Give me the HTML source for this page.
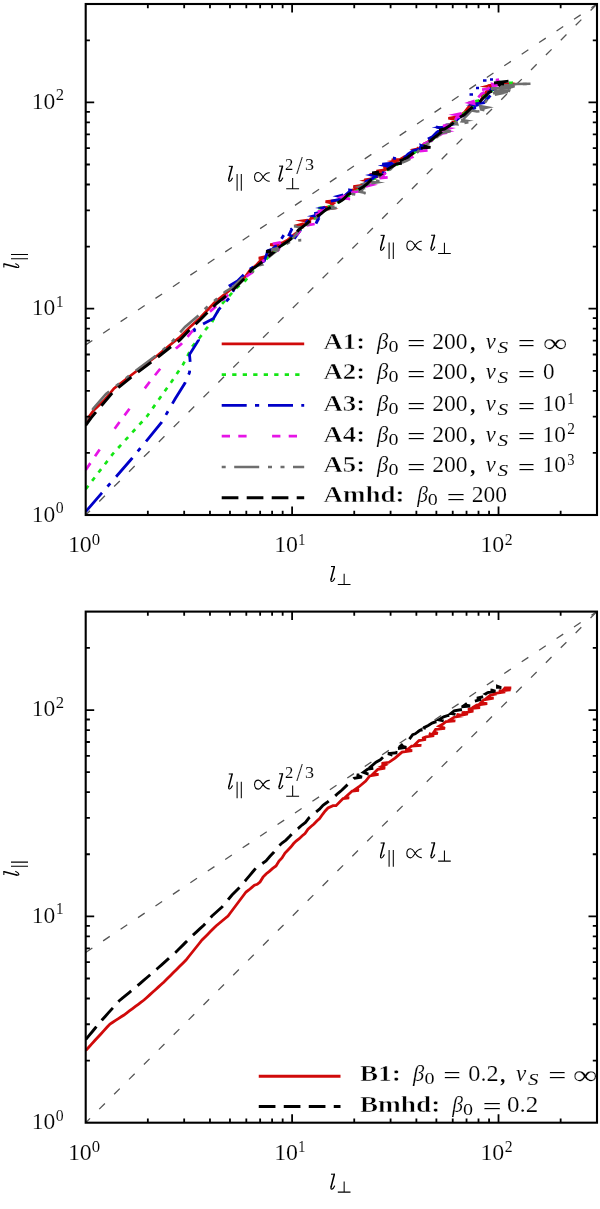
<!DOCTYPE html>
<html><head><meta charset="utf-8"><title>plot</title>
<style>html,body{margin:0;padding:0;background:#fff;width:600px;height:1209px;overflow:hidden}
text{font-family:"Liberation Serif",serif;fill:#000;stroke:#fff;stroke-width:0.16px;paint-order:normal}
text[font-weight=bold]{stroke-width:0.5px}
text.s{stroke-width:0.08px}
text.c{stroke:none}
svg{will-change:transform}</style></head>
<body>
<svg width="600" height="1209" viewBox="0 0 600 1209" font-family="Liberation Serif, serif" style="display:block;font-kerning:none">
<defs>
<clipPath id="c0"><rect x="85.70" y="4.00" width="511.30" height="511.00"/></clipPath>
<clipPath id="c1"><rect x="85.70" y="611.60" width="511.30" height="511.10"/></clipPath>
</defs>
<rect width="600" height="1209" fill="#fff"/>
<g clip-path="url(#c0)">
<path d="M85.70 515.00L597.00 4.00" stroke="#555" stroke-width="1.3" fill="none" stroke-dasharray="8 13.05" stroke-dashoffset="1.9"/>
<path d="M85.70 344.87L597.00 4.00" stroke="#555" stroke-width="1.3" fill="none" stroke-dasharray="8 12.96" stroke-dashoffset="0"/>
</g>
<g clip-path="url(#c0)">
<path d="M85.70 421.50 L89.30 416.30 L94.00 410.00 L104.00 400.50 L114.00 388.50 L136.00 371.50 L158.00 355.00 L170.00 345.00 L180.00 337.00 L190.00 327.00 L200.00 318.00 L215.00 302.00 L230.00 290.00 L245.00 277.00 L250.00 270.11 L255.73 265.57 L260.29 260.81 L265.00 259.48 L258.78 258.12 L266.68 256.38 L272.61 253.31 L277.27 245.89 L270.16 244.58 L278.89 243.78 L283.01 242.45 L287.33 240.23 L292.15 236.13 L298.14 231.57 L303.12 223.88 L310.91 222.27 L304.76 220.85 L308.61 222.61 L311.11 217.86 L315.26 218.04 L318.01 214.71 L321.46 210.13 L327.33 208.70 L321.34 208.05 L329.03 206.81 L333.49 203.50 L325.56 201.70 L335.25 200.67 L338.50 199.78 L343.81 196.35 L347.05 194.44 L351.79 190.30 L355.04 189.31 L358.69 187.64 L353.33 186.65 L361.36 185.45 L365.44 185.46 L369.95 181.64 L364.34 179.83 L373.27 178.53 L378.36 176.05 L369.56 174.59 L381.62 173.28 L384.26 172.60 L376.44 171.13 L386.27 169.48 L389.39 168.55 L383.47 167.08 L392.00 165.39 L397.72 161.23 L391.64 159.96 L400.11 159.33 L404.61 156.57 L410.23 156.24 L415.15 151.37 L421.82 149.95 L416.68 148.12 L419.26 148.84 L424.31 143.66 L427.08 142.38 L432.73 138.65 L438.00 135.03 L442.90 130.95 L446.86 127.28 L451.37 123.17 L455.91 119.62 L448.35 118.25 L459.39 116.42 L464.47 112.36 L469.90 105.17 L472.50 105.74 L475.81 103.68 L480.46 101.27 L483.00 95.89 L486.21 91.65 L491.02 88.72 L494.66 87.08 L487.94 85.83 L497.78 83.82 L502.00 84.00 L507.00 84.00 L512.00 83.50 L515.00 84.00" stroke="#d00a0a" stroke-width="2.70" fill="none" stroke-linejoin="miter" stroke-miterlimit="3" stroke-miterlimit="20"/>
<path d="M293.44 224.99L302.71 222.52L304.21 228.45ZM294.94 220.61L307.56 218.68L309.06 223.10ZM298.89 220.44L309.32 218.74L310.82 222.76ZM338.63 208.85L325.69 210.84L324.19 205.64ZM359.17 180.82L369.45 178.27L370.95 182.82ZM386.60 161.07L397.38 159.42L398.88 164.26ZM409.49 149.30L417.55 147.59L419.05 152.50ZM489.77 95.90L481.37 97.47L479.87 93.60ZM479.57 86.69L491.49 83.74L492.99 88.43Z" fill="#d00a0a"/>
<path d="M85.70 489.20 L113.30 453.30 L146.70 416.70 L171.50 381.70 L182.75 365.00 L192.50 346.25 L200.00 337.25 L206.00 329.00 L212.00 322.25 L221.00 305.00 L228.50 296.75 L236.00 288.50 L245.00 281.00 L257.00 266.00 L262.00 262.93 L265.09 260.51 L268.58 256.82 L275.14 250.25 L279.41 246.99 L285.15 243.37 L288.35 241.07 L292.59 236.99 L297.92 232.12 L304.77 225.07 L310.22 220.76 L314.47 218.62 L320.07 213.68 L325.74 209.78 L318.61 208.14 L327.30 206.50 L331.94 206.39 L336.17 203.40 L340.36 201.20 L345.09 198.01 L348.45 196.18 L353.17 192.56 L359.98 189.33 L363.37 187.35 L368.55 182.50 L372.98 178.85 L383.22 177.14 L376.08 176.02 L379.28 175.09 L385.97 171.16 L390.96 168.23 L397.93 164.17 L403.84 160.27 L409.97 156.50 L416.74 150.70 L422.28 147.24 L428.05 142.82 L431.22 141.17 L434.69 137.14 L441.15 131.77 L444.54 129.45 L448.92 126.49 L455.26 120.62 L461.65 115.56 L466.61 111.66 L472.49 107.15 L476.41 103.86 L468.75 102.39 L478.22 100.64 L483.22 98.80 L491.73 96.80 L484.78 95.78 L491.72 91.04 L496.86 86.18 L503.31 83.37 L512.61 82.63 L506.10 81.29" stroke="#14e614" stroke-width="2.70" fill="none" stroke-linejoin="miter" stroke-miterlimit="3" stroke-dasharray="4.3 6.2" stroke-miterlimit="20"/>
<path d="M85.70 511.70 L101.50 493.30 L116.50 476.30 L132.30 458.00 L146.50 440.80 L161.50 422.50 L175.20 398.70 L185.00 383.00 L189.50 372.50 L190.20 362.00 L189.50 354.50 L198.50 340.20 L194.00 329.70 L202.20 324.50 L213.50 318.50 L218.75 309.50 L227.00 300.50 L234.50 292.20 L230.00 285.50 L237.50 281.00 L248.75 269.75 L255.00 266.00 L264.25 261.00 L268.00 250.50 L272.50 249.00 L278.00 244.00 L284.50 234.00 L292.00 228.75 L289.00 234.75 L295.00 237.75 L302.00 228.00 L313.00 213.75 L320.50 212.25 L316.00 223.50 L328.00 201.75 L340.00 199.50 L345.00 195.61 L350.36 190.64 L355.98 190.61 L348.37 189.77 L358.71 188.00 L362.77 186.63 L366.32 181.11 L369.01 180.37 L373.00 178.36 L377.44 174.63 L386.13 173.22 L380.90 172.38 L386.03 167.02 L389.38 165.67 L382.28 164.14 L391.49 163.24 L394.10 165.34 L398.56 159.22 L393.08 158.05 L400.69 157.33 L403.87 158.19 L408.03 154.16 L413.27 150.44 L422.46 148.53 L415.53 147.39 L418.08 148.26 L421.69 147.17 L424.76 143.01 L427.38 139.14 L432.43 136.78 L436.70 132.38 L442.57 128.54 L435.98 126.98 L445.68 126.22 L450.67 123.59 L455.35 121.31 L460.76 116.26 L466.50 114.90 L471.05 109.34 L475.74 107.79 L470.37 106.49 L477.78 105.06 L480.94 105.45 L472.23 104.59 L483.98 102.74 L486.51 99.54 L492.22 93.80 L487.06 92.57 L493.76 90.76 L496.65 87.46 L498.00 84.00 L503.00 86.00 L508.00 86.00" stroke="#0000c8" stroke-width="2.80" fill="none" stroke-linejoin="miter" stroke-miterlimit="3" stroke-dasharray="25 8.3 4.2 8.8" stroke-miterlimit="20"/>
<path d="M306.90 216.34L315.61 213.97L317.11 217.67ZM315.03 208.02L324.38 206.10L325.88 209.86ZM332.52 196.14L342.98 193.61L344.48 198.95ZM365.01 175.00L376.45 172.42L377.95 177.99ZM377.58 165.46L391.26 163.34L392.76 168.39ZM429.84 146.76L420.55 149.11L419.05 143.15ZM431.52 127.32L443.77 125.77L445.27 130.01ZM456.49 124.66L446.98 127.18L445.48 123.43ZM465.74 105.19L477.94 102.54L479.44 106.26ZM484.43 88.80L495.81 86.42L497.31 91.84Z" fill="#0000c8"/>
<path d="M85.70 470.00 L99.80 449.20 L119.80 421.70 L129.80 408.30 L149.80 381.70 L160.00 369.00 L176.00 348.50 L181.25 344.00 L187.25 337.25 L194.00 329.00 L209.75 311.75 L215.00 307.25 L230.00 293.00 L246.50 276.50 L254.00 271.25 L258.00 265.93 L263.52 260.59 L270.37 259.34 L265.25 258.78 L271.21 255.88 L275.13 252.35 L277.89 250.47 L280.78 244.93 L271.95 244.00 L282.50 242.13 L286.35 242.67 L289.51 239.58 L284.31 237.96 L292.35 236.47 L297.35 234.12 L301.00 229.82 L305.57 225.47 L315.48 223.86 L308.66 222.57 L314.09 217.51 L321.51 216.15 L315.62 214.50 L321.60 213.50 L316.16 212.04 L323.78 210.36 L327.80 207.93 L330.73 206.48 L336.15 204.99 L340.91 200.65 L349.88 198.94 L343.79 197.85 L349.20 194.88 L352.61 192.15 L358.14 191.53 L362.35 187.54 L366.26 185.59 L369.01 182.30 L373.81 177.91 L378.59 178.19 L390.24 177.10 L381.63 175.95 L384.99 173.51 L387.74 170.14 L390.73 171.01 L394.04 167.53 L397.66 164.15 L403.34 159.57 L409.12 158.18 L412.96 156.74 L417.86 151.42 L428.60 150.33 L420.84 149.61 L424.08 145.49 L430.88 144.28 L425.82 143.06 L429.40 141.27 L434.11 139.68 L437.73 136.36 L442.52 133.33 L452.44 131.99 L444.25 131.50 L449.76 127.13 L443.04 125.85 L453.14 123.91 L456.60 117.52 L460.52 116.62 L463.62 110.11 L469.24 105.58 L474.15 102.91 L477.97 97.74 L481.44 93.79 L485.63 91.56 L480.46 89.85 L487.58 89.07 L493.38 83.81 L503.69 82.91 L495.48 81.74 L499.11 81.19 L496.00 80.00 L503.00 79.00" stroke="#e614e6" stroke-width="2.70" fill="none" stroke-linejoin="miter" stroke-miterlimit="3" stroke-dasharray="8.3 8.3 8.3 25.5" stroke-miterlimit="20"/>
<path d="M336.52 197.41L345.52 194.30L347.02 200.04ZM378.00 184.79L366.13 187.79L364.63 182.13ZM454.49 131.25L442.76 133.84L441.26 128.77ZM455.93 127.92L446.38 130.53L444.88 126.58ZM448.53 114.63L461.34 111.98L462.84 117.55ZM464.27 102.97L474.37 99.44L475.87 105.42ZM504.00 85.27L491.99 87.82L490.49 82.30Z" fill="#e614e6"/>
<path d="M85.70 420.50 L93.30 408.50 L106.00 394.00 L114.00 387.50 L136.00 370.50 L158.00 354.00 L170.00 344.00 L185.00 327.00 L198.50 315.50 L206.00 308.00 L225.50 291.50 L233.00 287.00 L245.00 275.50 L250.00 271.36 L253.02 271.54 L258.14 265.70 L263.17 264.33 L267.56 258.25 L272.58 253.90 L277.28 250.47 L271.36 249.46 L280.20 247.76 L283.51 245.05 L286.69 243.88 L290.26 241.64 L301.11 240.15 L292.38 239.26 L297.83 231.64 L301.87 227.40 L294.08 226.23 L304.20 224.85 L309.56 224.37 L314.92 219.85 L318.36 214.98 L322.44 213.74 L326.86 209.20 L336.54 207.93 L329.31 207.12 L334.60 206.65 L338.57 204.18 L343.31 198.33 L346.51 197.25 L352.33 193.96 L355.56 194.48 L365.59 192.96 L358.42 191.56 L360.96 191.71 L365.54 185.27 L370.29 182.26 L379.32 181.21 L373.54 180.13 L376.81 179.14 L382.63 173.24 L386.40 171.25 L390.39 169.33 L394.03 165.67 L398.05 163.00 L403.09 162.33 L406.54 160.84 L412.04 157.80 L416.02 154.09 L420.29 148.60 L425.17 144.46 L430.88 142.75 L433.85 139.77 L437.35 136.67 L442.13 132.85 L450.57 131.20 L443.67 129.51 L448.56 126.22 L453.50 123.29 L459.03 123.56 L470.75 122.03 L462.09 121.35 L464.81 117.55 L468.70 113.59 L471.60 110.43 L476.96 111.47 L486.31 110.61 L480.10 109.21 L485.60 101.80 L491.10 94.35 L496.17 92.30 L502.08 89.59 L500.00 90.00 L510.00 91.00 L505.00 88.00 L512.00 87.00 L520.00 84.00 L530.50 84.00" stroke="#6e6e6e" stroke-width="2.60" fill="none" stroke-linejoin="miter" stroke-miterlimit="3" stroke-dasharray="25 8.8 4 8.5 4 8.5" stroke-miterlimit="20" stroke-dashoffset="46.3"/>
<path d="M508.00 86.00 L516.00 84.00 L530.50 83.80" stroke="#6e6e6e" stroke-width="2.60" fill="none" stroke-linejoin="miter" stroke-miterlimit="3"/>
<path d="M491 88.5L511 88M494 91.5L508 92M499 85.5L512 85.5" stroke="#6e6e6e" stroke-width="3" fill="none"/>
<path d="M483 80.5h3.5M469.5 94.5h3.5M490 79.5h3M476 88h3" stroke="#0000c8" stroke-width="2.6" fill="none"/>
<path d="M353.92 187.01L364.00 184.07L365.50 189.45ZM359.60 183.54L368.61 181.31L370.11 185.89ZM385.09 182.57L371.57 184.43L370.07 180.36ZM444.61 124.14L457.51 121.05L459.01 125.86ZM473.85 120.81L462.10 122.29L460.60 118.49ZM493.87 107.29L480.01 110.44L478.51 104.50ZM506.10 93.74L495.08 95.91L493.58 90.51Z" fill="#6e6e6e"/>
<path d="M85.70 425.30 L91.30 417.70 L96.00 412.00 L102.00 405.00 L114.00 391.00 L136.00 373.50 L158.00 357.00 L170.00 347.50 L180.00 340.00 L188.00 331.50 L200.00 320.00 L209.00 311.00 L216.50 303.50 L227.00 295.25 L234.50 288.50 L245.00 278.00 L250.00 271.50 L252.00 269.21 L255.98 266.63 L262.43 261.65 L269.14 255.77 L272.65 253.07 L266.20 251.55 L274.48 250.11 L279.60 246.91 L284.08 243.75 L289.87 239.86 L294.14 236.07 L298.31 230.06 L305.19 224.97 L309.81 220.83 L312.88 218.37 L317.54 215.97 L320.94 213.90 L325.85 209.70 L332.53 206.23 L339.20 201.98 L343.33 199.30 L348.17 194.54 L351.86 192.73 L356.24 191.38 L359.70 188.99 L363.31 186.74 L367.04 183.97 L370.44 180.35 L377.09 176.76 L380.36 174.67 L372.24 172.98 L382.03 171.32 L385.43 170.86 L389.51 168.12 L393.18 165.96 L396.76 163.81 L403.55 163.02 L398.50 161.38 L403.70 159.28 L407.77 157.19 L412.44 153.60 L415.87 151.50 L420.00 148.24 L430.45 147.39 L422.54 145.85 L426.33 143.52 L430.96 140.41 L437.72 134.97 L442.35 131.29 L436.85 130.62 L444.45 129.03 L449.67 125.84 L456.26 120.64 L459.84 117.31 L464.36 114.62 L471.30 107.98 L477.61 103.84 L483.32 98.03 L489.15 92.38 L494.30 89.81 L500.90 83.53 L504.03 84.11 L497.43 82.74 L506.07 81.01" stroke="#000" stroke-width="2.90" fill="none" stroke-linejoin="miter" stroke-miterlimit="3" stroke-dasharray="16.7 8.3" stroke-miterlimit="20"/>
<path d="M494 83L508.5 81.2" stroke="#000" stroke-width="2.8" fill="none"/>
</g>
<path d="M221.70 343.90 L304.20 343.90" stroke="#d00a0a" stroke-width="2.80" fill="none" stroke-linejoin="miter" stroke-miterlimit="3"/>
<path d="M221.70 374.67 L304.20 374.67" stroke="#14e614" stroke-width="2.70" fill="none" stroke-linejoin="miter" stroke-miterlimit="3" stroke-dasharray="4.3 6.2"/>
<path d="M221.70 405.44 L304.20 405.44" stroke="#0000c8" stroke-width="2.80" fill="none" stroke-linejoin="miter" stroke-miterlimit="3" stroke-dasharray="25 8.3 4.2 8.8"/>
<path d="M221.70 436.21 L304.20 436.21" stroke="#e614e6" stroke-width="2.70" fill="none" stroke-linejoin="miter" stroke-miterlimit="3" stroke-dasharray="8.3 8.3 8.3 25.5"/>
<path d="M221.70 466.98 L304.20 466.98" stroke="#6e6e6e" stroke-width="2.60" fill="none" stroke-linejoin="miter" stroke-miterlimit="3" stroke-dasharray="25 8.8 4 8.5 4 8.5" stroke-dashoffset="46.30"/>
<path d="M221.70 497.75 L304.20 497.75" stroke="#000" stroke-width="3.00" fill="none" stroke-linejoin="miter" stroke-miterlimit="3" stroke-dasharray="16.7 8.3"/>
<text transform="translate(323.49 348.90) scale(1.1823 1)" font-size="22.66" font-weight="bold">A1:</text>
<text transform="translate(377.06 348.90) scale(0.9795 1)" font-size="23.00" font-style="italic">β</text>
<text transform="translate(388.54 352.00) scale(1.1938 1)" font-size="16.80" class="s">0</text>
<text transform="translate(407.06 351.20) scale(1.4296 1)" font-size="23.00">=</text>
<text transform="translate(432.26 348.90) scale(1.0257 1)" font-size="23.00">200</text>
<text transform="translate(470.13 349.60) scale(0.9585 1)" font-size="21.00" font-weight="bold" class="c">,</text>
<text transform="translate(485.69 348.90) scale(0.9854 1)" font-size="23.00" font-style="italic">ν</text>
<text transform="translate(497.45 352.90) scale(1.2670 1)" font-size="16.80" font-style="italic" class="s">S</text>
<text transform="translate(517.76 351.20) scale(1.3455 1)" font-size="23.00">=</text>
<text transform="translate(542.91 351.75) scale(1.2718 1)" font-size="26.90">∞</text>
<text transform="translate(323.49 379.25) scale(1.1823 1)" font-size="22.66" font-weight="bold">A2:</text>
<text transform="translate(377.06 379.25) scale(0.9795 1)" font-size="23.00" font-style="italic">β</text>
<text transform="translate(388.54 382.35) scale(1.1938 1)" font-size="16.80" class="s">0</text>
<text transform="translate(407.06 381.55) scale(1.4296 1)" font-size="23.00">=</text>
<text transform="translate(432.26 379.25) scale(1.0257 1)" font-size="23.00">200</text>
<text transform="translate(470.13 379.95) scale(0.9585 1)" font-size="21.00" font-weight="bold" class="c">,</text>
<text transform="translate(485.69 379.25) scale(0.9854 1)" font-size="23.00" font-style="italic">ν</text>
<text transform="translate(497.45 383.25) scale(1.2670 1)" font-size="16.80" font-style="italic" class="s">S</text>
<text transform="translate(517.76 381.55) scale(1.3455 1)" font-size="23.00">=</text>
<text transform="translate(543.02 379.25) scale(1.0053 1)" font-size="23.00">0</text>
<text transform="translate(323.49 411.30) scale(1.1823 1)" font-size="22.66" font-weight="bold">A3:</text>
<text transform="translate(377.06 411.30) scale(0.9795 1)" font-size="23.00" font-style="italic">β</text>
<text transform="translate(388.54 414.40) scale(1.1938 1)" font-size="16.80" class="s">0</text>
<text transform="translate(407.06 413.60) scale(1.4296 1)" font-size="23.00">=</text>
<text transform="translate(432.26 411.30) scale(1.0257 1)" font-size="23.00">200</text>
<text transform="translate(470.13 412.00) scale(0.9585 1)" font-size="21.00" font-weight="bold" class="c">,</text>
<text transform="translate(485.69 411.30) scale(0.9854 1)" font-size="23.00" font-style="italic">ν</text>
<text transform="translate(497.45 415.30) scale(1.2670 1)" font-size="16.80" font-style="italic" class="s">S</text>
<text transform="translate(517.76 413.60) scale(1.3455 1)" font-size="23.00">=</text>
<text transform="translate(542.44 411.30) scale(1.0198 1)" font-size="23.00">10</text>
<text transform="translate(567.25 403.70) scale(0.8454 1)" font-size="16.80" class="s">1</text>
<text transform="translate(323.49 441.50) scale(1.1823 1)" font-size="22.66" font-weight="bold">A4:</text>
<text transform="translate(377.06 441.50) scale(0.9795 1)" font-size="23.00" font-style="italic">β</text>
<text transform="translate(388.54 444.60) scale(1.1938 1)" font-size="16.80" class="s">0</text>
<text transform="translate(407.06 443.80) scale(1.4296 1)" font-size="23.00">=</text>
<text transform="translate(432.26 441.50) scale(1.0257 1)" font-size="23.00">200</text>
<text transform="translate(470.13 442.20) scale(0.9585 1)" font-size="21.00" font-weight="bold" class="c">,</text>
<text transform="translate(485.69 441.50) scale(0.9854 1)" font-size="23.00" font-style="italic">ν</text>
<text transform="translate(497.45 445.50) scale(1.2670 1)" font-size="16.80" font-style="italic" class="s">S</text>
<text transform="translate(517.76 443.80) scale(1.3455 1)" font-size="23.00">=</text>
<text transform="translate(542.44 441.50) scale(1.0198 1)" font-size="23.00">10</text>
<text transform="translate(567.32 433.90) scale(0.9206 1)" font-size="16.80" class="s">2</text>
<text transform="translate(323.49 472.25) scale(1.1823 1)" font-size="22.66" font-weight="bold">A5:</text>
<text transform="translate(377.06 472.25) scale(0.9795 1)" font-size="23.00" font-style="italic">β</text>
<text transform="translate(388.54 475.35) scale(1.1938 1)" font-size="16.80" class="s">0</text>
<text transform="translate(407.06 474.55) scale(1.4296 1)" font-size="23.00">=</text>
<text transform="translate(432.26 472.25) scale(1.0257 1)" font-size="23.00">200</text>
<text transform="translate(470.13 472.95) scale(0.9585 1)" font-size="21.00" font-weight="bold" class="c">,</text>
<text transform="translate(485.69 472.25) scale(0.9854 1)" font-size="23.00" font-style="italic">ν</text>
<text transform="translate(497.45 476.25) scale(1.2670 1)" font-size="16.80" font-style="italic" class="s">S</text>
<text transform="translate(517.76 474.55) scale(1.3455 1)" font-size="23.00">=</text>
<text transform="translate(542.44 472.25) scale(1.0198 1)" font-size="23.00">10</text>
<text transform="translate(567.30 464.65) scale(0.8646 1)" font-size="16.80" class="s">3</text>
<text transform="translate(323.49 502.25) scale(1.1935 1)" font-size="22.66" font-weight="bold">Amhd:</text>
<text transform="translate(417.25 502.25) scale(0.9328 1)" font-size="23.00" font-style="italic">β</text>
<text transform="translate(427.84 505.35) scale(1.1938 1)" font-size="16.80" class="s">0</text>
<text transform="translate(446.43 504.55) scale(1.4576 1)" font-size="23.00">=</text>
<text transform="translate(471.76 502.25) scale(1.0241 1)" font-size="23.00">200</text>
<rect x="85.70" y="4.00" width="511.30" height="511.00" fill="none" stroke="#000" stroke-width="2.1"/>
<path d="M147.84 515.00V510.80M147.84 4.00V8.20M85.70 452.90H89.90M597.00 452.90H592.80M184.18 515.00V510.80M184.18 4.00V8.20M85.70 416.58H89.90M597.00 416.58H592.80M209.97 515.00V510.80M209.97 4.00V8.20M85.70 390.80H89.90M597.00 390.80H592.80M229.97 515.00V510.80M229.97 4.00V8.20M85.70 370.81H89.90M597.00 370.81H592.80M246.32 515.00V510.80M246.32 4.00V8.20M85.70 354.48H89.90M597.00 354.48H592.80M260.14 515.00V510.80M260.14 4.00V8.20M85.70 340.67H89.90M597.00 340.67H592.80M272.11 515.00V510.80M272.11 4.00V8.20M85.70 328.70H89.90M597.00 328.70H592.80M282.66 515.00V510.80M282.66 4.00V8.20M85.70 318.15H89.90M597.00 318.15H592.80M292.11 515.00V506.50M292.11 4.00V12.50M85.70 308.71H94.20M597.00 308.71H588.50M354.24 515.00V510.80M354.24 4.00V8.20M85.70 246.61H89.90M597.00 246.61H592.80M390.59 515.00V510.80M390.59 4.00V8.20M85.70 210.29H89.90M597.00 210.29H592.80M416.38 515.00V510.80M416.38 4.00V8.20M85.70 184.51H89.90M597.00 184.51H592.80M436.38 515.00V510.80M436.38 4.00V8.20M85.70 164.52H89.90M597.00 164.52H592.80M452.73 515.00V510.80M452.73 4.00V8.20M85.70 148.19H89.90M597.00 148.19H592.80M466.54 515.00V510.80M466.54 4.00V8.20M85.70 134.38H89.90M597.00 134.38H592.80M478.51 515.00V510.80M478.51 4.00V8.20M85.70 122.42H89.90M597.00 122.42H592.80M489.07 515.00V510.80M489.07 4.00V8.20M85.70 111.86H89.90M597.00 111.86H592.80M498.52 515.00V506.50M498.52 4.00V12.50M85.70 102.42H94.20M597.00 102.42H588.50M560.65 515.00V510.80M560.65 4.00V8.20M85.70 40.33H89.90M597.00 40.33H592.80" stroke="#000" stroke-width="1.8" fill="none"/>
<text transform="translate(31.73 521.60) scale(1.0247 1)" font-size="23.00">10</text>
<text transform="translate(55.70 513.10) scale(0.9410 1)" font-size="16.80" class="s">0</text>
<text transform="translate(31.73 315.00) scale(1.0247 1)" font-size="23.00">10</text>
<text transform="translate(55.98 306.50) scale(0.8961 1)" font-size="16.80" class="s">1</text>
<text transform="translate(31.73 108.50) scale(1.0247 1)" font-size="23.00">10</text>
<text transform="translate(55.77 100.00) scale(0.9948 1)" font-size="16.80" class="s">2</text>
<text transform="translate(67.90 552.00) scale(1.0397 1)" font-size="23.00">10</text>
<text transform="translate(91.86 544.60) scale(0.9971 1)" font-size="16.80" class="s">0</text>
<text transform="translate(274.15 552.00) scale(1.0397 1)" font-size="23.00">10</text>
<text transform="translate(298.35 544.60) scale(0.8454 1)" font-size="16.80" class="s">1</text>
<text transform="translate(480.40 552.00) scale(1.0397 1)" font-size="23.00">10</text>
<text transform="translate(504.71 544.60) scale(0.9354 1)" font-size="16.80" class="s">2</text>
<path d="M331.00 566.55 L335.00 566.55" stroke="#000" stroke-width="1.05" fill="none"/><path d="M334.30 566.90 L331.10 579.20" stroke="#000" stroke-width="1.55" fill="none" stroke-linecap="round"/><path d="M331.10 579.00 C330.60 581.00 331.00 581.70 332.00 581.50 C333.00 581.30 333.80 580.20 334.60 578.40" stroke="#000" stroke-width="1.15" fill="none" stroke-linecap="round"/>
<path d="M337.80 584.48H350.50M344.15 573.80V584.48" stroke="#000" stroke-width="1.05" fill="none"/>
<g transform="translate(19.3 268.40) rotate(-90)">
<path d="M1.00 -15.45 L5.00 -15.45" stroke="#000" stroke-width="1.05" fill="none"/><path d="M4.30 -15.10 L1.10 -2.80" stroke="#000" stroke-width="1.55" fill="none" stroke-linecap="round"/><path d="M1.10 -3.00 C0.60 -1.00 1.00 -0.30 2.00 -0.50 C3.00 -0.70 3.80 -1.80 4.60 -3.60" stroke="#000" stroke-width="1.15" fill="none" stroke-linecap="round"/>
<path d="M9.70 -8.30V8.70M13.90 -8.30V8.70" stroke="#000" stroke-width="1.05" fill="none"/>
</g>
<path d="M228.75 166.35 L232.75 166.35" stroke="#000" stroke-width="1.05" fill="none"/><path d="M232.05 166.70 L228.85 179.00" stroke="#000" stroke-width="1.55" fill="none" stroke-linecap="round"/><path d="M228.85 178.80 C228.35 180.80 228.75 181.50 229.75 181.30 C230.75 181.10 231.55 180.00 232.35 178.20" stroke="#000" stroke-width="1.15" fill="none" stroke-linecap="round"/>
<path d="M237.10 174.00V190.70M241.30 174.00V190.70" stroke="#000" stroke-width="1.05" fill="none"/>
<path d="M269.73 172.72 C266.39 172.45 264.57 174.70 263.05 176.95 C261.54 179.20 260.62 181.45 258.50 181.45 C256.07 181.45 254.55 179.47 254.55 176.95 C254.55 174.43 256.07 172.45 258.50 172.45 C260.62 172.45 261.54 174.70 263.05 176.95 C264.57 179.20 266.39 181.45 269.73 181.18" stroke="#000" stroke-width="1.10" fill="none"/>
<path d="M279.10 166.15 L283.10 166.15" stroke="#000" stroke-width="1.05" fill="none"/><path d="M282.40 166.50 L279.20 178.80" stroke="#000" stroke-width="1.55" fill="none" stroke-linecap="round"/><path d="M279.20 178.60 C278.70 180.60 279.10 181.30 280.10 181.10 C281.10 180.90 281.90 179.80 282.70 178.00" stroke="#000" stroke-width="1.15" fill="none" stroke-linecap="round"/>
<text transform="translate(285.02 170.00) scale(0.9874 1)" font-size="16.80" class="s">2</text>
<text transform="translate(296.20 173.50) scale(0.9502 1)" font-size="25.00">/</text>
<text transform="translate(304.88 170.20) scale(1.0807 1)" font-size="16.80" class="s">3</text>
<path d="M286.20 188.67H299.10M292.65 177.90V188.67" stroke="#000" stroke-width="1.05" fill="none"/>
<path d="M380.60 235.35 L384.60 235.35" stroke="#000" stroke-width="1.05" fill="none"/><path d="M383.90 235.70 L380.70 248.00" stroke="#000" stroke-width="1.55" fill="none" stroke-linecap="round"/><path d="M380.70 247.80 C380.20 249.80 380.60 250.50 381.60 250.30 C382.60 250.10 383.40 249.00 384.20 247.20" stroke="#000" stroke-width="1.15" fill="none" stroke-linecap="round"/>
<path d="M389.10 242.40V259.00M393.30 242.40V259.00" stroke="#000" stroke-width="1.05" fill="none"/>
<path d="M421.73 241.33 C418.46 241.05 416.67 243.35 415.19 245.65 C413.70 247.95 412.80 250.25 410.72 250.25 C408.34 250.25 406.85 248.23 406.85 245.65 C406.85 243.07 408.34 241.05 410.72 241.05 C412.80 241.05 413.70 243.35 415.19 245.65 C416.67 247.95 418.46 250.25 421.73 249.97" stroke="#000" stroke-width="1.10" fill="none"/>
<path d="M431.10 235.25 L435.10 235.25" stroke="#000" stroke-width="1.05" fill="none"/><path d="M434.40 235.60 L431.20 247.90" stroke="#000" stroke-width="1.55" fill="none" stroke-linecap="round"/><path d="M431.20 247.70 C430.70 249.70 431.10 250.40 432.10 250.20 C433.10 250.00 433.90 248.90 434.70 247.10" stroke="#000" stroke-width="1.15" fill="none" stroke-linecap="round"/>
<path d="M438.10 253.47H450.75M444.43 242.75V253.47" stroke="#000" stroke-width="1.05" fill="none"/>
<g clip-path="url(#c1)">
<path d="M85.70 1122.70L597.00 611.60" stroke="#555" stroke-width="1.3" fill="none" stroke-dasharray="8 13.05" stroke-dashoffset="1.9"/>
<path d="M85.70 952.47L597.00 611.60" stroke="#555" stroke-width="1.3" fill="none" stroke-dasharray="8 12.96" stroke-dashoffset="0"/>
</g>
<g clip-path="url(#c1)">
<path d="M85.70 1050.50 L88.74 1047.19 L91.78 1043.88 L94.81 1040.56 L97.85 1037.25 L100.89 1033.94 L103.92 1030.62 L106.96 1027.31 L110.00 1024.00 L112.80 1022.20 L115.60 1020.40 L118.40 1018.60 L121.20 1016.80 L124.00 1015.00 L126.86 1012.86 L129.71 1010.71 L132.57 1008.57 L135.43 1006.43 L138.29 1004.29 L141.14 1002.14 L144.00 1000.00 L146.86 997.43 L149.71 994.86 L152.57 992.29 L155.43 989.71 L158.29 987.14 L161.14 984.57 L164.00 982.00 L167.14 978.86 L170.29 975.71 L173.43 972.57 L176.57 969.43 L179.71 966.29 L182.86 963.14 L186.00 960.00 L189.20 956.00 L192.40 952.00 L195.60 948.00 L198.80 944.00 L202.00 940.00 L204.80 937.20 L207.60 934.40 L210.40 931.60 L213.20 928.80 L216.00 926.00 L219.00 923.50 L222.00 921.00 L225.00 918.50 L228.00 916.00 L231.00 912.00 L234.00 908.00 L237.00 904.00 L240.00 900.00 L243.00 896.00 L246.00 892.00 L248.80 890.00 L251.60 887.65 L254.40 885.30 L257.20 884.30 L260.00 882.00 L263.00 877.14 L266.00 874.00 L269.33 871.41 L272.67 868.40 L276.00 866.00 L279.00 861.12 L282.00 858.01 L285.00 853.07 L288.00 850.00 L290.80 847.07 L293.60 843.54 L296.40 840.78 L299.20 838.65 L302.00 836.00 L305.00 833.65 L308.00 829.25 L311.00 826.45 L314.00 824.00 L316.80 821.05 L319.60 818.50 L322.40 814.55 L325.20 810.99 L328.00 808.00 L333.00 805.68 L336.03 805.66 L343.03 798.54 L349.08 797.82 L345.92 796.71 L352.18 791.02 L358.88 790.24 L355.38 789.17 L358.97 786.72 L365.75 781.11 L369.75 775.96 L378.49 774.34 L373.28 773.69 L377.85 769.35 L385.07 768.12 L381.18 766.76 L385.36 764.86 L381.71 763.40 L389.01 762.29 L395.01 758.09 L402.00 752.08 L412.15 750.61 L405.19 749.41 L408.40 748.78 L411.66 746.05 L421.26 745.28 L415.54 743.89 L418.97 740.53 L425.87 739.28 L422.31 738.33 L425.94 736.85 L434.05 735.61 L428.81 733.55 L430.69 734.19 L437.72 733.33 L434.03 731.78 L435.68 729.40 L444.98 728.24 L439.16 726.21 L442.62 724.29 L444.32 722.92 L445.96 721.63 L455.21 720.90 L450.45 719.52 L454.13 717.23 L463.61 715.52 L456.66 714.40 L458.95 715.77 L467.82 713.95 L461.70 712.65 L465.22 712.52 L473.27 711.01 L468.03 709.31 L471.94 708.47 L479.97 707.71 L474.79 706.23 L476.71 705.14 L487.23 703.54 L480.87 702.78 L483.78 699.85 L493.62 698.22 L487.51 697.52 L490.48 695.15 L496.68 693.98 L493.04 692.37 L495.33 693.32 L505.21 691.89 L498.89 691.22 L501.35 690.81 L510.55 689.91 L504.32 688.76 L505.00 688.00 L511.30 688.00" stroke="#d00a0a" stroke-width="2.80" fill="none" stroke-linejoin="miter" stroke-miterlimit="3" stroke-miterlimit="20"/>
<path d="M85.70 1039.50 L88.96 1035.60 L92.22 1031.70 L95.48 1027.80 L98.74 1023.90 L102.00 1020.00 L105.40 1016.20 L108.80 1012.40 L112.20 1008.60 L115.60 1004.80 L119.00 1001.00 L122.40 998.20 L125.80 995.40 L129.20 992.60 L132.60 989.80 L136.00 987.00 L139.67 983.83 L143.33 980.67 L147.00 977.50 L150.67 974.33 L154.33 971.17 L158.00 968.00 L161.60 964.80 L165.20 961.60 L168.80 958.40 L172.40 955.20 L176.00 952.00 L179.20 948.80 L182.40 945.60 L185.60 942.40 L188.80 939.20 L192.00 936.00 L196.00 932.33 L200.00 928.67 L204.00 925.00 L208.00 920.50 L212.00 916.00 L215.33 913.00 L218.67 910.00 L222.00 907.00 L225.33 903.00 L228.67 899.00 L232.00 895.00 L236.00 891.00 L240.00 887.00 L243.20 883.20 L246.40 879.40 L249.60 875.60 L252.80 871.80 L256.00 868.00 L259.33 865.67 L262.67 863.27 L266.00 861.00 L270.00 856.30 L274.00 852.00 L278.00 846.92 L282.00 843.00 L286.00 840.09 L290.00 836.00 L294.00 831.54 L298.00 828.67 L302.00 825.00 L305.50 822.39 L309.00 817.83 L312.50 815.34 L316.00 812.00 L319.50 809.19 L323.00 805.27 L326.50 802.81 L330.00 800.00 L334.00 796.99 L338.00 793.26 L342.00 790.00 L354.00 778.33 L361.87 777.02 L356.82 775.01 L360.22 774.86 L368.27 774.03 L363.46 772.27 L367.72 769.13 L377.10 767.60 L371.12 766.46 L376.00 762.26 L380.35 759.82 L383.65 756.64 L392.04 754.79 L387.92 753.52 L390.06 753.32 L397.10 752.70 L392.92 751.21 L396.82 748.65 L406.32 747.33 L400.87 745.88 L404.89 742.49 L409.36 739.11 L412.69 734.66 L415.23 733.81 L419.87 730.34 L428.21 728.62 L423.56 727.89 L428.27 725.44 L432.06 723.06 L434.96 722.02 L444.26 721.00 L438.76 719.85 L443.71 716.86 L448.11 715.48 L456.56 714.58 L450.96 713.44 L454.20 710.82 L462.67 709.40 L458.44 708.01 L461.06 706.88 L470.07 706.01 L464.87 705.00 L467.09 703.41 L470.65 702.82 L474.06 701.26 L480.93 699.36 L477.01 698.25 L481.33 697.05 L488.95 695.61 L485.48 693.89 L487.79 692.57 L495.35 691.15 L490.85 689.80 L493.63 688.98 L501.07 687.71 L497.50 686.30 L497.50 688.75" stroke="#000" stroke-width="2.90" fill="none" stroke-linejoin="miter" stroke-miterlimit="3" stroke-dasharray="16.7 8.3" stroke-miterlimit="20"/>
<path d="M494 83L508.5 81.2" stroke="#000" stroke-width="2.8" fill="none"/>
</g>
<path d="M258.75 1076.25 L340.50 1076.25" stroke="#d00a0a" stroke-width="2.80" fill="none" stroke-linejoin="miter" stroke-miterlimit="3"/>
<path d="M258.75 1106.40 L340.50 1106.40" stroke="#000" stroke-width="3.00" fill="none" stroke-linejoin="miter" stroke-miterlimit="3" stroke-dasharray="16.7 8.3"/>
<text transform="translate(359.79 1080.90) scale(1.2111 1)" font-size="22.66" font-weight="bold">B1:</text>
<text transform="translate(413.11 1080.90) scale(0.9795 1)" font-size="23.00" font-style="italic">β</text>
<text transform="translate(424.43 1084.00) scale(1.2008 1)" font-size="16.80" class="s">0</text>
<text transform="translate(443.19 1083.20) scale(1.3595 1)" font-size="23.00">=</text>
<text transform="translate(468.28 1080.90) scale(1.0543 1)" font-size="23.00">0.2</text>
<text transform="translate(500.33 1081.60) scale(0.9585 1)" font-size="21.00" font-weight="bold" class="c">,</text>
<text x="515.99" y="1080.90" font-size="23.00" font-style="italic">ν</text>
<text transform="translate(528.05 1084.90) scale(1.2480 1)" font-size="16.80" font-style="italic" class="s">S</text>
<text transform="translate(548.14 1083.20) scale(1.4015 1)" font-size="23.00">=</text>
<text transform="translate(572.91 1083.75) scale(1.2718 1)" font-size="26.90">∞</text>
<text transform="translate(359.80 1111.75) scale(1.2087 1)" font-size="22.66" font-weight="bold">Bmhd:</text>
<text transform="translate(452.35 1111.75) scale(0.9328 1)" font-size="23.00" font-style="italic">β</text>
<text transform="translate(463.04 1114.85) scale(1.1938 1)" font-size="16.80" class="s">0</text>
<text transform="translate(482.51 1114.05) scale(1.4763 1)" font-size="23.00">=</text>
<text transform="translate(507.05 1111.75) scale(1.0900 1)" font-size="23.00">0.2</text>
<rect x="85.70" y="611.60" width="511.30" height="511.10" fill="none" stroke="#000" stroke-width="2.1"/>
<path d="M147.84 1122.70V1118.50M147.84 611.60V615.80M85.70 1060.59H89.90M597.00 1060.59H592.80M184.18 1122.70V1118.50M184.18 611.60V615.80M85.70 1024.26H89.90M597.00 1024.26H592.80M209.97 1122.70V1118.50M209.97 611.60V615.80M85.70 998.48H89.90M597.00 998.48H592.80M229.97 1122.70V1118.50M229.97 611.60V615.80M85.70 978.48H89.90M597.00 978.48H592.80M246.32 1122.70V1118.50M246.32 611.60V615.80M85.70 962.15H89.90M597.00 962.15H592.80M260.14 1122.70V1118.50M260.14 611.60V615.80M85.70 948.33H89.90M597.00 948.33H592.80M272.11 1122.70V1118.50M272.11 611.60V615.80M85.70 936.37H89.90M597.00 936.37H592.80M282.66 1122.70V1118.50M282.66 611.60V615.80M85.70 925.81H89.90M597.00 925.81H592.80M292.11 1122.70V1114.20M292.11 611.60V620.10M85.70 916.37H94.20M597.00 916.37H588.50M354.24 1122.70V1118.50M354.24 611.60V615.80M85.70 854.26H89.90M597.00 854.26H592.80M390.59 1122.70V1118.50M390.59 611.60V615.80M85.70 817.93H89.90M597.00 817.93H592.80M416.38 1122.70V1118.50M416.38 611.60V615.80M85.70 792.15H89.90M597.00 792.15H592.80M436.38 1122.70V1118.50M436.38 611.60V615.80M85.70 772.15H89.90M597.00 772.15H592.80M452.73 1122.70V1118.50M452.73 611.60V615.80M85.70 755.82H89.90M597.00 755.82H592.80M466.54 1122.70V1118.50M466.54 611.60V615.80M85.70 742.00H89.90M597.00 742.00H592.80M478.51 1122.70V1118.50M478.51 611.60V615.80M85.70 730.04H89.90M597.00 730.04H592.80M489.07 1122.70V1118.50M489.07 611.60V615.80M85.70 719.48H89.90M597.00 719.48H592.80M498.52 1122.70V1114.20M498.52 611.60V620.10M85.70 710.04H94.20M597.00 710.04H588.50M560.65 1122.70V1118.50M560.65 611.60V615.80M85.70 647.93H89.90M597.00 647.93H592.80" stroke="#000" stroke-width="1.8" fill="none"/>
<text transform="translate(31.73 1129.25) scale(1.0247 1)" font-size="23.00">10</text>
<text transform="translate(55.70 1120.75) scale(0.9410 1)" font-size="16.80" class="s">0</text>
<text transform="translate(31.73 922.65) scale(1.0247 1)" font-size="23.00">10</text>
<text transform="translate(55.98 914.15) scale(0.8961 1)" font-size="16.80" class="s">1</text>
<text transform="translate(31.73 716.15) scale(1.0247 1)" font-size="23.00">10</text>
<text transform="translate(55.77 707.65) scale(0.9948 1)" font-size="16.80" class="s">2</text>
<text transform="translate(67.90 1159.65) scale(1.0397 1)" font-size="23.00">10</text>
<text transform="translate(91.86 1152.25) scale(0.9971 1)" font-size="16.80" class="s">0</text>
<text transform="translate(274.15 1159.65) scale(1.0397 1)" font-size="23.00">10</text>
<text transform="translate(298.35 1152.25) scale(0.8454 1)" font-size="16.80" class="s">1</text>
<text transform="translate(480.40 1159.65) scale(1.0397 1)" font-size="23.00">10</text>
<text transform="translate(504.71 1152.25) scale(0.9354 1)" font-size="16.80" class="s">2</text>
<path d="M331.00 1174.20 L335.00 1174.20" stroke="#000" stroke-width="1.05" fill="none"/><path d="M334.30 1174.55 L331.10 1186.85" stroke="#000" stroke-width="1.55" fill="none" stroke-linecap="round"/><path d="M331.10 1186.65 C330.60 1188.65 331.00 1189.35 332.00 1189.15 C333.00 1188.95 333.80 1187.85 334.60 1186.05" stroke="#000" stroke-width="1.15" fill="none" stroke-linecap="round"/>
<path d="M337.80 1192.12H350.50M344.15 1181.45V1192.12" stroke="#000" stroke-width="1.05" fill="none"/>
<g transform="translate(19.3 876.05) rotate(-90)">
<path d="M1.00 -15.45 L5.00 -15.45" stroke="#000" stroke-width="1.05" fill="none"/><path d="M4.30 -15.10 L1.10 -2.80" stroke="#000" stroke-width="1.55" fill="none" stroke-linecap="round"/><path d="M1.10 -3.00 C0.60 -1.00 1.00 -0.30 2.00 -0.50 C3.00 -0.70 3.80 -1.80 4.60 -3.60" stroke="#000" stroke-width="1.15" fill="none" stroke-linecap="round"/>
<path d="M9.70 -8.30V8.70M13.90 -8.30V8.70" stroke="#000" stroke-width="1.05" fill="none"/>
</g>
<path d="M228.75 774.00 L232.75 774.00" stroke="#000" stroke-width="1.05" fill="none"/><path d="M232.05 774.35 L228.85 786.65" stroke="#000" stroke-width="1.55" fill="none" stroke-linecap="round"/><path d="M228.85 786.45 C228.35 788.45 228.75 789.15 229.75 788.95 C230.75 788.75 231.55 787.65 232.35 785.85" stroke="#000" stroke-width="1.15" fill="none" stroke-linecap="round"/>
<path d="M237.10 781.65V798.35M241.30 781.65V798.35" stroke="#000" stroke-width="1.05" fill="none"/>
<path d="M269.73 780.37 C266.39 780.10 264.57 782.35 263.05 784.60 C261.54 786.85 260.62 789.10 258.50 789.10 C256.07 789.10 254.55 787.12 254.55 784.60 C254.55 782.08 256.07 780.10 258.50 780.10 C260.62 780.10 261.54 782.35 263.05 784.60 C264.57 786.85 266.39 789.10 269.73 788.83" stroke="#000" stroke-width="1.10" fill="none"/>
<path d="M279.10 773.80 L283.10 773.80" stroke="#000" stroke-width="1.05" fill="none"/><path d="M282.40 774.15 L279.20 786.45" stroke="#000" stroke-width="1.55" fill="none" stroke-linecap="round"/><path d="M279.20 786.25 C278.70 788.25 279.10 788.95 280.10 788.75 C281.10 788.55 281.90 787.45 282.70 785.65" stroke="#000" stroke-width="1.15" fill="none" stroke-linecap="round"/>
<text transform="translate(285.02 777.65) scale(0.9874 1)" font-size="16.80" class="s">2</text>
<text transform="translate(296.20 781.15) scale(0.9502 1)" font-size="25.00">/</text>
<text transform="translate(304.88 777.85) scale(1.0807 1)" font-size="16.80" class="s">3</text>
<path d="M286.20 796.32H299.10M292.65 785.55V796.32" stroke="#000" stroke-width="1.05" fill="none"/>
<path d="M380.60 843.00 L384.60 843.00" stroke="#000" stroke-width="1.05" fill="none"/><path d="M383.90 843.35 L380.70 855.65" stroke="#000" stroke-width="1.55" fill="none" stroke-linecap="round"/><path d="M380.70 855.45 C380.20 857.45 380.60 858.15 381.60 857.95 C382.60 857.75 383.40 856.65 384.20 854.85" stroke="#000" stroke-width="1.15" fill="none" stroke-linecap="round"/>
<path d="M389.10 850.05V866.65M393.30 850.05V866.65" stroke="#000" stroke-width="1.05" fill="none"/>
<path d="M421.73 848.98 C418.46 848.70 416.67 851.00 415.19 853.30 C413.70 855.60 412.80 857.90 410.72 857.90 C408.34 857.90 406.85 855.88 406.85 853.30 C406.85 850.72 408.34 848.70 410.72 848.70 C412.80 848.70 413.70 851.00 415.19 853.30 C416.67 855.60 418.46 857.90 421.73 857.62" stroke="#000" stroke-width="1.10" fill="none"/>
<path d="M431.10 842.90 L435.10 842.90" stroke="#000" stroke-width="1.05" fill="none"/><path d="M434.40 843.25 L431.20 855.55" stroke="#000" stroke-width="1.55" fill="none" stroke-linecap="round"/><path d="M431.20 855.35 C430.70 857.35 431.10 858.05 432.10 857.85 C433.10 857.65 433.90 856.55 434.70 854.75" stroke="#000" stroke-width="1.15" fill="none" stroke-linecap="round"/>
<path d="M438.10 861.12H450.75M444.43 850.40V861.12" stroke="#000" stroke-width="1.05" fill="none"/>
</svg>
</body></html>
